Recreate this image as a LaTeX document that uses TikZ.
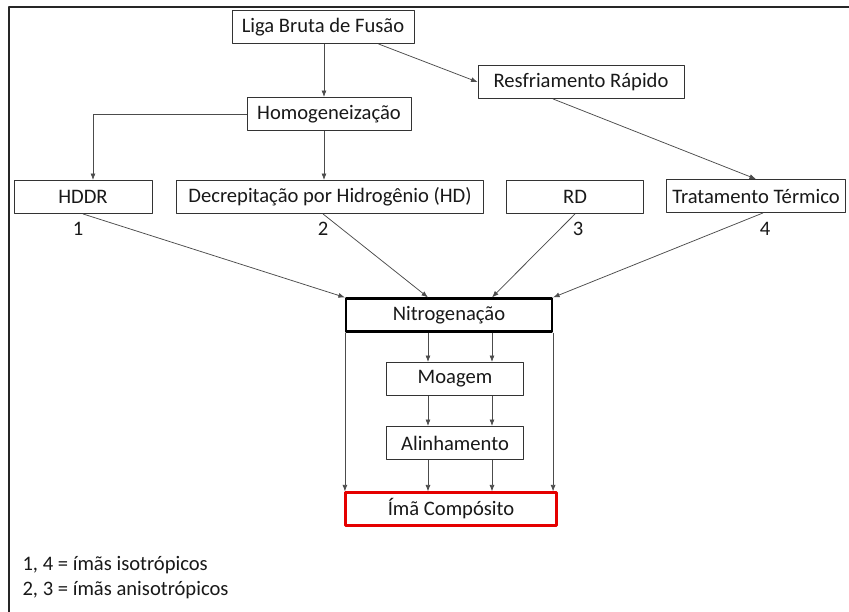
\documentclass[tikz,border=0pt]{standalone}
\usepackage{fontspec}
\setmainfont{Carlito}
\usetikzlibrary{arrows.meta,calc}

\tikzset{
	caixa/.style={draw=black!80, line width=0.9pt, inner sep=0pt, minimum height=33pt, text=black!90, font=\fontsize{20.6}{24}\selectfont},
	seta/.style={draw=black!70, line width=0.75pt, -{Latex[length=6.5pt,width=5pt]}},
	linha/.style={draw=black!70, line width=0.75pt}
}

\begin{document}
\begin{tikzpicture}[x=1pt,y=-1pt,line join=round]
			\useasboundingbox (0,0) rectangle (849,612);
			\fill[white] (0,0) rectangle (849,612);
			
			% moldura
			\draw [line width=2pt, black!85] (9,612) -- (9,7) -- (849,7);
			
			% caixas
			\node [caixa, minimum width=182pt] (liga) at (323,27) {Liga Bruta de Fusão};
			\node [caixa, minimum width=206pt] (resfr) at (581,82) {Resfriamento Rápido};
			\node [caixa, minimum width=164pt] (homog) at (329,114) {Homogeneização};
			\node [caixa, minimum width=138pt] (hddr) at (83,197) {HDDR};
			\node [caixa, minimum width=307pt] (decrep) at (330,197) {Decrepitação por Hidrogênio (HD)};
			\node [caixa, minimum width=137pt] (rd) at (575,197) {RD};
			\node [caixa, minimum width=179pt] (trat) at (756,196) {Tratamento Térmico};
			\node [caixa, minimum width=206pt, line width=2.2pt, draw=black] (nitrog) at (449,315) {Nitrogenação};
			\node [caixa, minimum width=137pt] (moagem) at (455,379) {Moagem};
			\node [caixa, minimum width=137pt] (alinh) at (455,443) {Alinhamento};
			\node [caixa, minimum width=211pt, line width=2.2pt, draw=red!90!black] (ima) at (451,509) {Ímã Compósito};
			
			% numeros
			\foreach \nome/\x/\t in {um/78/1, dois/323/2, tres/578/3, quatro/765/4}{
				\node [text=black!90, font=\fontsize{20.6}{24}\selectfont] (\nome) at (\x,229) {\t};}
			
			% setas de cima
			\draw [seta] (liga.south -| 324,0) -- (homog.north -| 324,0);
			\draw [seta] ($(liga.south east)+(-36,0)$) -- (resfr.west);
			\draw [seta] ($(resfr.south)+(-28,0)$) -- (trat.north);
			\draw [seta] (homog.west) -| ($(hddr.north)+(10,0)$);
			\draw [seta] (homog.south -| 324,0) -- (decrep.north -| 324,0);
			
			% para a nitrogenacao
			\draw [seta] (hddr.south) -- (nitrog.north west);
			\draw [seta] ($(decrep.south)+(-7,0)$) -- (nitrog.north -| 428,0);
			\draw [seta] (rd.south) -- (nitrog.north -| 492,0);
			\draw [seta] ($(trat.south)+(7,0)$) -- (nitrog.north east);
			
			% colunas
			\foreach \x in {428, 492}{
				\draw [seta] (nitrog.south -| \x,0) -- (moagem.north -| \x,0);
				\draw [seta] (moagem.south -| \x,0) -- (alinh.north -| \x,0);
				\draw [seta] (alinh.south -| \x,0) -- (ima.north -| \x,0);}
			\draw [seta] (nitrog.south west) -- (ima.north west -| nitrog.south west);
			\draw [seta] (nitrog.south east) -- (ima.north east -| nitrog.south east);
			
			% legenda
			\node [anchor=west, align=left, text=black!90, font=\fontsize{20.6}{25}\selectfont] (legenda) at (19,578) {1, 4 = ímãs isotrópicos\\2, 3 = ímãs anisotrópicos};
		\end{tikzpicture}
\end{document}
